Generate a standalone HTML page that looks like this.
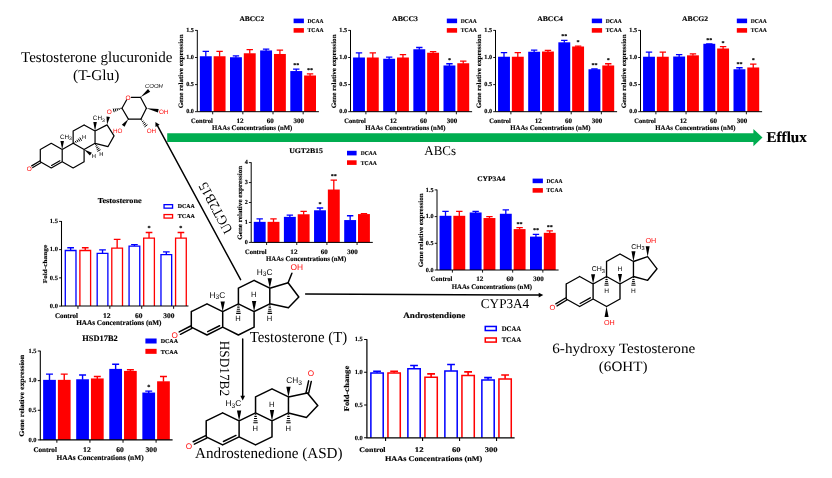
<!DOCTYPE html>
<html><head><meta charset="utf-8"><title>HAAs testosterone metabolism</title>
<style>
html,body{margin:0;padding:0;background:#fff;}
svg{display:block;will-change:transform;text-rendering:geometricPrecision;}
.b{font-family:"Liberation Serif",serif;font-weight:bold;stroke:#000;stroke-width:0.15px;}
.s{font-family:"Liberation Serif",serif;}
.a{font-family:"Liberation Sans",sans-serif;}
</style></head><body>
<svg width="832" height="478" viewBox="0 0 832 478">
<rect width="832" height="478" fill="#fff"/>
<path d="M167.2 133.2H753.4V129L762.5 137.6L753.4 146.2V141.9H167.2Z" fill="#00ad50"/>
<g>
<rect x="199.85" y="56.25" width="11.9" height="55.45" fill="#0000ff"/>
<path d="M205.8 56.75V51M202.6 51.3H209" stroke="#0000ff" stroke-width="1.3" fill="none"/>
<rect x="213.65" y="56.25" width="11.9" height="55.45" fill="#ff0000"/>
<path d="M219.6 56.75V51M216.4 51.3H222.8" stroke="#ff0000" stroke-width="1.3" fill="none"/>
<rect x="230" y="57.23" width="11.9" height="54.47" fill="#0000ff"/>
<path d="M235.95 57.73V55.49M232.75 55.79H239.15" stroke="#0000ff" stroke-width="1.3" fill="none"/>
<rect x="243.8" y="53.27" width="11.9" height="58.43" fill="#ff0000"/>
<path d="M249.75 53.77V49.37M246.55 49.67H252.95" stroke="#ff0000" stroke-width="1.3" fill="none"/>
<rect x="260.15" y="50.45" width="11.9" height="61.25" fill="#0000ff"/>
<path d="M266.1 50.95V48.83M262.9 49.13H269.3" stroke="#0000ff" stroke-width="1.3" fill="none"/>
<rect x="273.95" y="53.98" width="11.9" height="57.72" fill="#ff0000"/>
<path d="M279.9 54.48V49.75M276.7 50.05H283.1" stroke="#ff0000" stroke-width="1.3" fill="none"/>
<rect x="290.3" y="71.05" width="11.9" height="40.65" fill="#0000ff"/>
<path d="M296.25 71.55V68.88M293.05 69.18H299.45" stroke="#0000ff" stroke-width="1.3" fill="none"/>
<text class="b" x="296.25" y="67.18" font-size="6" text-anchor="middle">**</text>
<rect x="304.1" y="75.49" width="11.9" height="36.21" fill="#ff0000"/>
<path d="M310.05 75.99V73.49M306.85 73.79H313.25" stroke="#ff0000" stroke-width="1.3" fill="none"/>
<text class="b" x="310.05" y="71.79" font-size="6" text-anchor="middle">**</text>
<path d="M197.3 30.1V111.7H318.9" stroke="#000" stroke-width="1" fill="none"/>
<path d="M195 111.7H197.3M195 84.6H197.3M195 57.5H197.3M195 30.4H197.3M212.7 111.7V114.3M242.85 111.7V114.3M273 111.7V114.3M303.15 111.7V114.3" stroke="#000" stroke-width="0.9" fill="none"/>
<text class="b" x="193.9" y="113.4" font-size="6.2" text-anchor="end">0.0</text>
<text class="b" x="193.9" y="86.3" font-size="6.2" text-anchor="end">0.5</text>
<text class="b" x="193.9" y="59.2" font-size="6.2" text-anchor="end">1.0</text>
<text class="b" x="193.9" y="32.1" font-size="6.2" text-anchor="end">1.5</text>
<text class="b" transform="translate(212.7 123) scale(0.9582 1)" font-size="6.8" text-anchor="end">Control</text>
<text class="b" transform="translate(243.65 123) scale(1.0588 1)" font-size="6.8" text-anchor="end">12</text>
<text class="b" transform="translate(273.8 123) scale(1.0294 1)" font-size="6.8" text-anchor="end">60</text>
<text class="b" transform="translate(303.95 123) scale(1.0294 1)" font-size="6.8" text-anchor="end">300</text>
<text class="b" transform="translate(252.2 130.2) scale(0.9695 1)" font-size="7" text-anchor="middle">HAAs Concentrations (nM)</text>
<text class="b" font-size="6.6" text-anchor="middle" transform="translate(183 71.35) rotate(-90) translate(0 0) scale(1.0775 1)">Gene relative expression</text>
<text class="b" transform="translate(251.8 21.3) scale(1.0333 1)" font-size="7.2" text-anchor="middle">ABCC2</text>
<rect x="293.6" y="18.6" width="10.3" height="4.6" fill="#0000ff"/>
<text class="b" transform="translate(307.6 22.9) scale(0.9550 1)" font-size="5.8">DCAA</text>
<rect x="293.6" y="28.1" width="10.3" height="4.6" fill="#ff0000"/>
<text class="b" transform="translate(307.6 32.4) scale(0.9736 1)" font-size="5.8">TCAA</text>
</g>
<g>
<rect x="353.05" y="57.5" width="11.9" height="54.2" fill="#0000ff"/>
<path d="M359 58V52.62M355.8 52.92H362.2" stroke="#0000ff" stroke-width="1.3" fill="none"/>
<rect x="366.85" y="57.5" width="11.9" height="54.2" fill="#ff0000"/>
<path d="M372.8 58V52.62M369.6 52.92H376" stroke="#ff0000" stroke-width="1.3" fill="none"/>
<rect x="383.2" y="58.75" width="11.9" height="52.95" fill="#0000ff"/>
<path d="M389.15 59.25V56.74M385.95 57.04H392.35" stroke="#0000ff" stroke-width="1.3" fill="none"/>
<rect x="397" y="57.5" width="11.9" height="54.2" fill="#ff0000"/>
<path d="M402.95 58V54.25M399.75 54.55H406.15" stroke="#ff0000" stroke-width="1.3" fill="none"/>
<rect x="413.35" y="49.26" width="11.9" height="62.44" fill="#0000ff"/>
<path d="M419.3 49.76V47.2M416.1 47.5H422.5" stroke="#0000ff" stroke-width="1.3" fill="none"/>
<rect x="427.15" y="52.73" width="11.9" height="58.97" fill="#ff0000"/>
<path d="M433.1 53.23V51.27M429.9 51.57H436.3" stroke="#ff0000" stroke-width="1.3" fill="none"/>
<rect x="443.5" y="65.47" width="11.9" height="46.23" fill="#0000ff"/>
<path d="M449.45 65.97V63.46M446.25 63.76H452.65" stroke="#0000ff" stroke-width="1.3" fill="none"/>
<text class="b" x="449.45" y="61.76" font-size="6" text-anchor="middle">*</text>
<rect x="457.3" y="63.25" width="11.9" height="48.45" fill="#ff0000"/>
<path d="M463.25 63.75V60.75M460.05 61.05H466.45" stroke="#ff0000" stroke-width="1.3" fill="none"/>
<path d="M350.5 30.1V111.7H472.1" stroke="#000" stroke-width="1" fill="none"/>
<path d="M348.2 111.7H350.5M348.2 84.6H350.5M348.2 57.5H350.5M348.2 30.4H350.5M365.9 111.7V114.3M396.05 111.7V114.3M426.2 111.7V114.3M456.35 111.7V114.3" stroke="#000" stroke-width="0.9" fill="none"/>
<text class="b" x="347.1" y="113.4" font-size="6.2" text-anchor="end">0.0</text>
<text class="b" x="347.1" y="86.3" font-size="6.2" text-anchor="end">0.5</text>
<text class="b" x="347.1" y="59.2" font-size="6.2" text-anchor="end">1.0</text>
<text class="b" x="347.1" y="32.1" font-size="6.2" text-anchor="end">1.5</text>
<text class="b" transform="translate(365.9 123) scale(0.9582 1)" font-size="6.8" text-anchor="end">Control</text>
<text class="b" transform="translate(396.85 123) scale(1.0588 1)" font-size="6.8" text-anchor="end">12</text>
<text class="b" transform="translate(427 123) scale(1.0294 1)" font-size="6.8" text-anchor="end">60</text>
<text class="b" transform="translate(457.15 123) scale(1.0294 1)" font-size="6.8" text-anchor="end">300</text>
<text class="b" transform="translate(405.4 130.2) scale(0.9695 1)" font-size="7" text-anchor="middle">HAAs Concentrations (nM)</text>
<text class="b" font-size="6.6" text-anchor="middle" transform="translate(336.2 71.35) rotate(-90) translate(0 0) scale(1.0775 1)">Gene relative expression</text>
<text class="b" transform="translate(405 21.3) scale(1.0833 1)" font-size="7.2" text-anchor="middle">ABCC3</text>
<rect x="446.8" y="18.6" width="10.3" height="4.6" fill="#0000ff"/>
<text class="b" transform="translate(460.8 22.9) scale(0.9550 1)" font-size="5.8">DCAA</text>
<rect x="446.8" y="28.1" width="10.3" height="4.6" fill="#ff0000"/>
<text class="b" transform="translate(460.8 32.4) scale(0.9736 1)" font-size="5.8">TCAA</text>
</g>
<g>
<rect x="498.05" y="56.74" width="11.9" height="54.96" fill="#0000ff"/>
<path d="M504 57.24V52.24M500.8 52.54H507.2" stroke="#0000ff" stroke-width="1.3" fill="none"/>
<rect x="511.85" y="56.74" width="11.9" height="54.96" fill="#ff0000"/>
<path d="M517.8 57.24V52.24M514.6 52.54H521" stroke="#ff0000" stroke-width="1.3" fill="none"/>
<rect x="528.2" y="51.75" width="11.9" height="59.95" fill="#0000ff"/>
<path d="M534.15 52.25V49.75M530.95 50.05H537.35" stroke="#0000ff" stroke-width="1.3" fill="none"/>
<rect x="542" y="51.54" width="11.9" height="60.16" fill="#ff0000"/>
<path d="M547.95 52.04V50.02M544.75 50.32H551.15" stroke="#ff0000" stroke-width="1.3" fill="none"/>
<rect x="558.35" y="42.32" width="11.9" height="69.38" fill="#0000ff"/>
<path d="M564.3 42.82V40.16M561.1 40.46H567.5" stroke="#0000ff" stroke-width="1.3" fill="none"/>
<text class="b" x="564.3" y="38.46" font-size="6" text-anchor="middle">**</text>
<rect x="572.15" y="46.5" width="11.9" height="65.2" fill="#ff0000"/>
<path d="M578.1 47V45.74M574.9 46.04H581.3" stroke="#ff0000" stroke-width="1.3" fill="none"/>
<text class="b" x="578.1" y="44.04" font-size="6" text-anchor="middle">*</text>
<rect x="588.5" y="69.26" width="11.9" height="42.44" fill="#0000ff"/>
<path d="M594.45 69.76V68.72M591.25 69.02H597.65" stroke="#0000ff" stroke-width="1.3" fill="none"/>
<text class="b" x="594.45" y="67.02" font-size="6" text-anchor="middle">**</text>
<rect x="602.3" y="65.47" width="11.9" height="46.23" fill="#ff0000"/>
<path d="M608.25 65.97V63.46M605.05 63.76H611.45" stroke="#ff0000" stroke-width="1.3" fill="none"/>
<text class="b" x="608.25" y="61.76" font-size="6" text-anchor="middle">*</text>
<path d="M495.5 30.1V111.7H617.1" stroke="#000" stroke-width="1" fill="none"/>
<path d="M493.2 111.7H495.5M493.2 84.6H495.5M493.2 57.5H495.5M493.2 30.4H495.5M510.9 111.7V114.3M541.05 111.7V114.3M571.2 111.7V114.3M601.35 111.7V114.3" stroke="#000" stroke-width="0.9" fill="none"/>
<text class="b" x="492.1" y="113.4" font-size="6.2" text-anchor="end">0.0</text>
<text class="b" x="492.1" y="86.3" font-size="6.2" text-anchor="end">0.5</text>
<text class="b" x="492.1" y="59.2" font-size="6.2" text-anchor="end">1.0</text>
<text class="b" x="492.1" y="32.1" font-size="6.2" text-anchor="end">1.5</text>
<text class="b" transform="translate(510.9 123) scale(0.9582 1)" font-size="6.8" text-anchor="end">Control</text>
<text class="b" transform="translate(541.85 123) scale(1.0588 1)" font-size="6.8" text-anchor="end">12</text>
<text class="b" transform="translate(572 123) scale(1.0294 1)" font-size="6.8" text-anchor="end">60</text>
<text class="b" transform="translate(602.15 123) scale(1.0294 1)" font-size="6.8" text-anchor="end">300</text>
<text class="b" transform="translate(550.4 130.2) scale(0.9695 1)" font-size="7" text-anchor="middle">HAAs Concentrations (nM)</text>
<text class="b" font-size="6.6" text-anchor="middle" transform="translate(481.2 71.35) rotate(-90) translate(0 0) scale(1.0775 1)">Gene relative expression</text>
<text class="b" transform="translate(550 21.3) scale(1.0666 1)" font-size="7.2" text-anchor="middle">ABCC4</text>
<rect x="591.8" y="18.6" width="10.3" height="4.6" fill="#0000ff"/>
<text class="b" transform="translate(605.8 22.9) scale(0.9550 1)" font-size="5.8">DCAA</text>
<rect x="591.8" y="28.1" width="10.3" height="4.6" fill="#ff0000"/>
<text class="b" transform="translate(605.8 32.4) scale(0.9736 1)" font-size="5.8">TCAA</text>
</g>
<g>
<rect x="643.05" y="56.74" width="11.9" height="54.96" fill="#0000ff"/>
<path d="M649 57.24V51.75M645.8 52.05H652.2" stroke="#0000ff" stroke-width="1.3" fill="none"/>
<rect x="656.85" y="56.74" width="11.9" height="54.96" fill="#ff0000"/>
<path d="M662.8 57.24V51.75M659.6 52.05H666" stroke="#ff0000" stroke-width="1.3" fill="none"/>
<rect x="673.2" y="56.52" width="11.9" height="55.18" fill="#0000ff"/>
<path d="M679.15 57.02V54.25M675.95 54.55H682.35" stroke="#0000ff" stroke-width="1.3" fill="none"/>
<rect x="687" y="55.33" width="11.9" height="56.37" fill="#ff0000"/>
<path d="M692.95 55.83V53.49M689.75 53.79H696.15" stroke="#ff0000" stroke-width="1.3" fill="none"/>
<rect x="703.35" y="43.79" width="11.9" height="67.91" fill="#0000ff"/>
<path d="M709.3 44.29V43.52M706.1 43.82H712.5" stroke="#0000ff" stroke-width="1.3" fill="none"/>
<text class="b" x="709.3" y="41.82" font-size="6" text-anchor="middle">**</text>
<rect x="717.15" y="48.5" width="11.9" height="63.2" fill="#ff0000"/>
<path d="M723.1 49V46.28M719.9 46.58H726.3" stroke="#ff0000" stroke-width="1.3" fill="none"/>
<text class="b" x="723.1" y="44.58" font-size="6" text-anchor="middle">*</text>
<rect x="733.5" y="69.26" width="11.9" height="42.44" fill="#0000ff"/>
<path d="M739.45 69.76V67.47M736.25 67.77H742.65" stroke="#0000ff" stroke-width="1.3" fill="none"/>
<text class="b" x="739.45" y="65.77" font-size="6" text-anchor="middle">**</text>
<rect x="747.3" y="67.47" width="11.9" height="44.23" fill="#ff0000"/>
<path d="M753.25 67.97V63.73M750.05 64.03H756.45" stroke="#ff0000" stroke-width="1.3" fill="none"/>
<text class="b" x="753.25" y="62.03" font-size="6" text-anchor="middle">*</text>
<path d="M640.5 30.1V111.7H762.1" stroke="#000" stroke-width="1" fill="none"/>
<path d="M638.2 111.7H640.5M638.2 84.6H640.5M638.2 57.5H640.5M638.2 30.4H640.5M655.9 111.7V114.3M686.05 111.7V114.3M716.2 111.7V114.3M746.35 111.7V114.3" stroke="#000" stroke-width="0.9" fill="none"/>
<text class="b" x="637.1" y="113.4" font-size="6.2" text-anchor="end">0.0</text>
<text class="b" x="637.1" y="86.3" font-size="6.2" text-anchor="end">0.5</text>
<text class="b" x="637.1" y="59.2" font-size="6.2" text-anchor="end">1.0</text>
<text class="b" x="637.1" y="32.1" font-size="6.2" text-anchor="end">1.5</text>
<text class="b" transform="translate(655.9 123) scale(0.9582 1)" font-size="6.8" text-anchor="end">Control</text>
<text class="b" transform="translate(686.85 123) scale(1.0588 1)" font-size="6.8" text-anchor="end">12</text>
<text class="b" transform="translate(717 123) scale(1.0294 1)" font-size="6.8" text-anchor="end">60</text>
<text class="b" transform="translate(747.15 123) scale(1.0294 1)" font-size="6.8" text-anchor="end">300</text>
<text class="b" transform="translate(695.4 130.2) scale(0.9695 1)" font-size="7" text-anchor="middle">HAAs Concentrations (nM)</text>
<text class="b" font-size="6.6" text-anchor="middle" transform="translate(626.2 71.35) rotate(-90) translate(0 0) scale(1.0775 1)">Gene relative expression</text>
<text class="b" transform="translate(695 21.3) scale(1.0655 1)" font-size="7.2" text-anchor="middle">ABCG2</text>
<rect x="736.8" y="18.6" width="10.3" height="4.6" fill="#0000ff"/>
<text class="b" transform="translate(750.8 22.9) scale(0.9550 1)" font-size="5.8">DCAA</text>
<rect x="736.8" y="28.1" width="10.3" height="4.6" fill="#ff0000"/>
<text class="b" transform="translate(750.8 32.4) scale(0.9736 1)" font-size="5.8">TCAA</text>
</g>
<g>
<rect x="253.75" y="221.85" width="11.9" height="20.55" fill="#0000ff"/>
<path d="M259.7 222.35V218.66M256.5 218.96H262.9" stroke="#0000ff" stroke-width="1.3" fill="none"/>
<rect x="267.55" y="221.85" width="11.9" height="20.55" fill="#ff0000"/>
<path d="M273.5 222.35V218.66M270.3 218.96H276.7" stroke="#ff0000" stroke-width="1.3" fill="none"/>
<rect x="283.9" y="216.86" width="11.9" height="25.54" fill="#0000ff"/>
<path d="M289.85 217.36V214.87M286.65 215.17H293.05" stroke="#0000ff" stroke-width="1.3" fill="none"/>
<rect x="297.7" y="214.27" width="11.9" height="28.13" fill="#ff0000"/>
<path d="M303.65 214.77V211.08M300.45 211.38H306.85" stroke="#ff0000" stroke-width="1.3" fill="none"/>
<rect x="314.05" y="210.28" width="11.9" height="32.12" fill="#0000ff"/>
<path d="M320 210.78V207.69M316.8 207.99H323.2" stroke="#0000ff" stroke-width="1.3" fill="none"/>
<text class="b" x="320" y="205.99" font-size="6" text-anchor="middle">*</text>
<rect x="327.85" y="189.53" width="11.9" height="52.87" fill="#ff0000"/>
<path d="M333.8 190.03V179.76M330.6 180.06H337" stroke="#ff0000" stroke-width="1.3" fill="none"/>
<text class="b" x="333.8" y="178.06" font-size="6" text-anchor="middle">**</text>
<rect x="344.2" y="220.06" width="11.9" height="22.34" fill="#0000ff"/>
<path d="M350.15 220.56V215.47M346.95 215.77H353.35" stroke="#0000ff" stroke-width="1.3" fill="none"/>
<rect x="358" y="214.07" width="11.9" height="28.33" fill="#ff0000"/>
<path d="M363.95 214.57V213.27M360.75 213.57H367.15" stroke="#ff0000" stroke-width="1.3" fill="none"/>
<path d="M251.2 162.3V242.4H372.8" stroke="#000" stroke-width="1" fill="none"/>
<path d="M248.9 242.4H251.2M248.9 222.45H251.2M248.9 202.5H251.2M248.9 182.55H251.2M248.9 162.6H251.2M266.6 242.4V245M296.75 242.4V245M326.9 242.4V245M357.05 242.4V245" stroke="#000" stroke-width="0.9" fill="none"/>
<text class="b" x="247.8" y="244.1" font-size="6.2" text-anchor="end">0</text>
<text class="b" x="247.8" y="224.15" font-size="6.2" text-anchor="end">1</text>
<text class="b" x="247.8" y="204.2" font-size="6.2" text-anchor="end">2</text>
<text class="b" x="247.8" y="184.25" font-size="6.2" text-anchor="end">3</text>
<text class="b" x="247.8" y="164.3" font-size="6.2" text-anchor="end">4</text>
<text class="b" transform="translate(266.6 253.7) scale(0.9582 1)" font-size="6.8" text-anchor="end">Control</text>
<text class="b" transform="translate(297.55 253.7) scale(1.0588 1)" font-size="6.8" text-anchor="end">12</text>
<text class="b" transform="translate(327.7 253.7) scale(1.0294 1)" font-size="6.8" text-anchor="end">60</text>
<text class="b" transform="translate(357.85 253.7) scale(1.0294 1)" font-size="6.8" text-anchor="end">300</text>
<text class="b" transform="translate(306.1 260.9) scale(0.9695 1)" font-size="7" text-anchor="middle">HAAs Concentrations (nM)</text>
<text class="b" font-size="6.6" text-anchor="middle" transform="translate(241.5 202.8) rotate(-90) translate(0 0) scale(1.0775 1)">Gene relative expression</text>
<text class="b" transform="translate(306 153) scale(1.0832 1)" font-size="7.2" text-anchor="middle">UGT2B15</text>
<rect x="347" y="150.8" width="9.6" height="4.6" fill="#0000ff"/>
<text class="b" transform="translate(360.8 155.1) scale(0.9550 1)" font-size="5.8">DCAA</text>
<rect x="347" y="160.3" width="9.6" height="4.6" fill="#ff0000"/>
<text class="b" transform="translate(360.8 164.6) scale(0.9736 1)" font-size="5.8">TCAA</text>
</g>
<g>
<rect x="439.55" y="215.8" width="11.9" height="54.2" fill="#0000ff"/>
<path d="M445.5 216.3V210.99M442.3 211.29H448.7" stroke="#0000ff" stroke-width="1.3" fill="none"/>
<rect x="453.35" y="215.8" width="11.9" height="54.2" fill="#ff0000"/>
<path d="M459.3 216.3V210.99M456.1 211.29H462.5" stroke="#ff0000" stroke-width="1.3" fill="none"/>
<rect x="469.7" y="212.49" width="11.9" height="57.51" fill="#0000ff"/>
<path d="M475.65 212.99V210.99M472.45 211.29H478.85" stroke="#0000ff" stroke-width="1.3" fill="none"/>
<rect x="483.5" y="218.04" width="11.9" height="51.96" fill="#ff0000"/>
<path d="M489.45 218.54V216.28M486.25 216.58H492.65" stroke="#ff0000" stroke-width="1.3" fill="none"/>
<rect x="499.85" y="213.77" width="11.9" height="56.23" fill="#0000ff"/>
<path d="M505.8 214.27V209.5M502.6 209.8H509" stroke="#0000ff" stroke-width="1.3" fill="none"/>
<rect x="513.65" y="229.1" width="11.9" height="40.9" fill="#ff0000"/>
<path d="M519.6 229.6V227.28M516.4 227.58H522.8" stroke="#ff0000" stroke-width="1.3" fill="none"/>
<text class="b" x="519.6" y="225.58" font-size="6" text-anchor="middle">**</text>
<rect x="530" y="236.62" width="11.9" height="33.38" fill="#0000ff"/>
<path d="M535.95 237.12V234.12M532.75 234.42H539.15" stroke="#0000ff" stroke-width="1.3" fill="none"/>
<text class="b" x="535.95" y="232.42" font-size="6" text-anchor="middle">**</text>
<rect x="543.8" y="232.83" width="11.9" height="37.17" fill="#ff0000"/>
<path d="M549.75 233.33V230.59M546.55 230.89H552.95" stroke="#ff0000" stroke-width="1.3" fill="none"/>
<text class="b" x="549.75" y="228.89" font-size="6" text-anchor="middle">**</text>
<path d="M437 189.6V270H558.6" stroke="#000" stroke-width="1" fill="none"/>
<path d="M434.7 270H437M434.7 243.3H437M434.7 216.6H437M434.7 189.9H437M452.4 270V272.6M482.55 270V272.6M512.7 270V272.6M542.85 270V272.6" stroke="#000" stroke-width="0.9" fill="none"/>
<text class="b" x="433.6" y="271.7" font-size="6.2" text-anchor="end">0.0</text>
<text class="b" x="433.6" y="245" font-size="6.2" text-anchor="end">0.5</text>
<text class="b" x="433.6" y="218.3" font-size="6.2" text-anchor="end">1.0</text>
<text class="b" x="433.6" y="191.6" font-size="6.2" text-anchor="end">1.5</text>
<text class="b" transform="translate(452.4 281.3) scale(0.9582 1)" font-size="6.8" text-anchor="end">Control</text>
<text class="b" transform="translate(483.35 281.3) scale(1.0588 1)" font-size="6.8" text-anchor="end">12</text>
<text class="b" transform="translate(513.5 281.3) scale(1.0294 1)" font-size="6.8" text-anchor="end">60</text>
<text class="b" transform="translate(543.65 281.3) scale(1.0294 1)" font-size="6.8" text-anchor="end">300</text>
<text class="b" transform="translate(491.9 288.5) scale(0.9695 1)" font-size="7" text-anchor="middle">HAAs Concentrations (nM)</text>
<text class="b" font-size="6.6" text-anchor="middle" transform="translate(422.7 230.25) rotate(-90) translate(0 0) scale(1.0775 1)">Gene relative expression</text>
<text class="b" transform="translate(491.2 180.6) scale(1.0332 1)" font-size="7.2" text-anchor="middle">CYP3A4</text>
<rect x="532.6" y="178.6" width="10.3" height="4.6" fill="#0000ff"/>
<text class="b" transform="translate(546.6 182.9) scale(0.9550 1)" font-size="5.8">DCAA</text>
<rect x="532.6" y="188.1" width="10.3" height="4.6" fill="#ff0000"/>
<text class="b" transform="translate(546.6 192.4) scale(0.9736 1)" font-size="5.8">TCAA</text>
</g>
<g>
<path d="M65.28 306.1V250.51H75.99V306.1" fill="#fff" stroke="#0000ff" stroke-width="1.31"/>
<path d="M70.64 250.36V247.49M67.29 247.79H73.98" stroke="#0000ff" stroke-width="1.36" fill="none"/>
<path d="M79.9 306.1V250.51H90.6V306.1" fill="#fff" stroke="#ff0000" stroke-width="1.31"/>
<path d="M85.25 250.36V247.49M81.91 247.79H88.59" stroke="#ff0000" stroke-width="1.36" fill="none"/>
<path d="M97.18 306.1V253.45H107.88V306.1" fill="#fff" stroke="#0000ff" stroke-width="1.31"/>
<path d="M102.53 253.3V249.63M99.19 249.93H105.87" stroke="#0000ff" stroke-width="1.36" fill="none"/>
<path d="M111.79 306.1V248.14H122.5V306.1" fill="#fff" stroke="#ff0000" stroke-width="1.31"/>
<path d="M117.15 247.99V239.02M113.8 239.32H120.49" stroke="#ff0000" stroke-width="1.36" fill="none"/>
<path d="M129.07 306.1V246.11H139.77V306.1" fill="#fff" stroke="#0000ff" stroke-width="1.31"/>
<path d="M134.42 245.95V244.27M131.08 244.57H137.76" stroke="#0000ff" stroke-width="1.36" fill="none"/>
<path d="M143.69 306.1V238.2H154.39V306.1" fill="#fff" stroke="#ff0000" stroke-width="1.31"/>
<path d="M149.04 238.05V232.24M145.7 232.54H152.38" stroke="#ff0000" stroke-width="1.36" fill="none"/>
<text class="b" x="149.04" y="230.47" font-size="6.26" text-anchor="middle">*</text>
<path d="M160.97 306.1V254.58H171.67V306.1" fill="#fff" stroke="#0000ff" stroke-width="1.31"/>
<path d="M166.32 254.42V251.61M162.98 251.91H169.66" stroke="#0000ff" stroke-width="1.36" fill="none"/>
<path d="M175.58 306.1V238.2H186.28V306.1" fill="#fff" stroke="#ff0000" stroke-width="1.31"/>
<path d="M180.93 238.05V232.24M177.59 232.54H184.27" stroke="#ff0000" stroke-width="1.36" fill="none"/>
<text class="b" x="180.93" y="230.47" font-size="6.26" text-anchor="middle">*</text>
<path d="M61.5 221.1V306.1H188.45" stroke="#000" stroke-width="1.04" fill="none"/>
<path d="M59.1 306.1H61.5M59.1 277.87H61.5M59.1 249.63H61.5M59.1 221.4H61.5M77.94 306.1V308.81M109.84 306.1V308.81M141.73 306.1V308.81M173.63 306.1V308.81" stroke="#000" stroke-width="0.94" fill="none"/>
<text class="b" x="57.95" y="307.87" font-size="6.47" text-anchor="end">0.0</text>
<text class="b" x="57.95" y="279.64" font-size="6.47" text-anchor="end">0.5</text>
<text class="b" x="57.95" y="251.41" font-size="6.47" text-anchor="end">1.0</text>
<text class="b" x="57.95" y="223.17" font-size="6.47" text-anchor="end">1.5</text>
<text class="b" transform="translate(77.94 317.9) scale(0.9774 1)" font-size="7.1" text-anchor="end">Control</text>
<text class="b" transform="translate(110.67 317.9) scale(1.0800 1)" font-size="7.1" text-anchor="end">12</text>
<text class="b" transform="translate(142.57 317.9) scale(1.0500 1)" font-size="7.1" text-anchor="end">60</text>
<text class="b" transform="translate(174.46 317.9) scale(1.0500 1)" font-size="7.1" text-anchor="end">300</text>
<text class="b" transform="translate(118.82 325.41) scale(0.9888 1)" font-size="7.31" text-anchor="middle">HAAs Concentrations (nM)</text>
<text class="b" font-size="5.95" text-anchor="middle" transform="translate(46.78 264.05) rotate(-90) translate(0 0) scale(1.2226 1)">Fold-change</text>
<text class="b" transform="translate(119.7 203) scale(1.0976 1)" font-size="7.52" text-anchor="middle">Testosterone</text>
<rect x="164.05" y="204.65" width="8.51" height="3.5" fill="#fff" stroke="#0000ff" stroke-width="1.31"/>
<text class="b" transform="translate(177.81 208.49) scale(0.9741 1)" font-size="6.06">DCAA</text>
<rect x="164.05" y="214.57" width="8.51" height="3.5" fill="#fff" stroke="#ff0000" stroke-width="1.31"/>
<text class="b" transform="translate(177.81 218.41) scale(0.9930 1)" font-size="6.06">TCAA</text>
</g>
<g>
<rect x="43.13" y="379.86" width="12.73" height="60.04" fill="#0000ff"/>
<path d="M49.49 380.36V373.82M46.01 374.12H52.98" stroke="#0000ff" stroke-width="1.41" fill="none"/>
<rect x="57.87" y="379.86" width="12.73" height="60.04" fill="#ff0000"/>
<path d="M64.24 380.36V373.82M60.75 374.12H67.72" stroke="#ff0000" stroke-width="1.41" fill="none"/>
<rect x="76.2" y="379.27" width="12.73" height="60.63" fill="#0000ff"/>
<path d="M82.57 379.77V374.71M79.09 375.01H86.05" stroke="#0000ff" stroke-width="1.41" fill="none"/>
<rect x="90.95" y="378.44" width="12.73" height="61.46" fill="#ff0000"/>
<path d="M97.31 378.94V376.13M93.83 376.43H100.79" stroke="#ff0000" stroke-width="1.41" fill="none"/>
<rect x="109.28" y="368.9" width="12.73" height="71" fill="#0000ff"/>
<path d="M115.64 369.4V363.98M112.16 364.28H119.13" stroke="#0000ff" stroke-width="1.41" fill="none"/>
<rect x="124.02" y="370.91" width="12.73" height="68.99" fill="#ff0000"/>
<path d="M130.39 371.41V369.49M126.9 369.79H133.87" stroke="#ff0000" stroke-width="1.41" fill="none"/>
<rect x="142.35" y="392.55" width="12.73" height="47.35" fill="#0000ff"/>
<path d="M148.72 393.05V390.83M145.24 391.13H152.2" stroke="#0000ff" stroke-width="1.41" fill="none"/>
<text class="b" x="148.72" y="388.98" font-size="6.27" text-anchor="middle">*</text>
<rect x="157.1" y="381.29" width="12.73" height="58.61" fill="#ff0000"/>
<path d="M163.46 381.79V376.13M159.98 376.43H166.94" stroke="#ff0000" stroke-width="1.41" fill="none"/>
<path d="M40.3 350.7V439.9H172.6" stroke="#000" stroke-width="1.09" fill="none"/>
<path d="M37.8 439.9H40.3M37.8 410.27H40.3M37.8 380.63H40.3M37.8 351H40.3M56.86 439.9V442.73M89.94 439.9V442.73M123.02 439.9V442.73M156.09 439.9V442.73" stroke="#000" stroke-width="0.98" fill="none"/>
<text class="b" x="36.6" y="441.68" font-size="6.48" text-anchor="end">0.0</text>
<text class="b" x="36.6" y="412.04" font-size="6.48" text-anchor="end">0.5</text>
<text class="b" x="36.6" y="382.41" font-size="6.48" text-anchor="end">1.0</text>
<text class="b" x="36.6" y="352.78" font-size="6.48" text-anchor="end">1.5</text>
<text class="b" transform="translate(56.86 452.19) scale(0.9981 1)" font-size="7.1" text-anchor="end">Control</text>
<text class="b" transform="translate(90.81 452.19) scale(1.1029 1)" font-size="7.1" text-anchor="end">12</text>
<text class="b" transform="translate(123.89 452.19) scale(1.0723 1)" font-size="7.1" text-anchor="end">60</text>
<text class="b" transform="translate(156.96 452.19) scale(1.0723 1)" font-size="7.1" text-anchor="end">300</text>
<text class="b" transform="translate(100.03 460.03) scale(1.0099 1)" font-size="7.31" text-anchor="middle">HAAs Concentrations (nM)</text>
<text class="b" font-size="6.89" text-anchor="middle" transform="translate(24.09 395.75) rotate(-90) translate(0 0) scale(1.1431 1)">Gene relative expression</text>
<text class="b" transform="translate(100 341.2) scale(1.0130 1)" font-size="8.25" text-anchor="middle">HSD17B2</text>
<rect x="145.4" y="338.5" width="11.21" height="5" fill="#0000ff"/>
<text class="b" transform="translate(160.63 343.18) scale(0.9947 1)" font-size="6.06">DCAA</text>
<rect x="145.4" y="348.84" width="11.21" height="5" fill="#ff0000"/>
<text class="b" transform="translate(160.63 353.51) scale(1.0141 1)" font-size="6.06">TCAA</text>
</g>
<g>
<path d="M370.88 437.8V373.03H383.21V437.8" fill="#fff" stroke="#0000ff" stroke-width="1.52"/>
<path d="M377.05 372.77V370.96M373.16 371.26H380.93" stroke="#0000ff" stroke-width="1.58" fill="none"/>
<path d="M387.95 437.8V373.03H400.28V437.8" fill="#fff" stroke="#ff0000" stroke-width="1.52"/>
<path d="M394.12 372.77V370.96M390.23 371.26H398" stroke="#ff0000" stroke-width="1.58" fill="none"/>
<path d="M407.88 437.8V368.7H420.21V437.8" fill="#fff" stroke="#0000ff" stroke-width="1.52"/>
<path d="M414.04 368.44V365.25M410.15 365.55H417.93" stroke="#0000ff" stroke-width="1.58" fill="none"/>
<path d="M424.95 437.8V377.35H437.28V437.8" fill="#fff" stroke="#ff0000" stroke-width="1.52"/>
<path d="M431.11 377.09V373.58M427.22 373.88H435" stroke="#ff0000" stroke-width="1.58" fill="none"/>
<path d="M444.87 437.8V371.06H457.2V437.8" fill="#fff" stroke="#0000ff" stroke-width="1.52"/>
<path d="M451.04 370.8V364.27M447.15 364.57H454.93" stroke="#0000ff" stroke-width="1.58" fill="none"/>
<path d="M461.94 437.8V375.39H474.28V437.8" fill="#fff" stroke="#ff0000" stroke-width="1.52"/>
<path d="M468.11 375.13V371.61M464.22 371.91H472" stroke="#ff0000" stroke-width="1.58" fill="none"/>
<path d="M481.87 437.8V380.04H494.2V437.8" fill="#fff" stroke="#0000ff" stroke-width="1.52"/>
<path d="M488.04 379.78V377.31M484.15 377.61H491.92" stroke="#0000ff" stroke-width="1.58" fill="none"/>
<path d="M498.94 437.8V379.06H511.27V437.8" fill="#fff" stroke="#ff0000" stroke-width="1.52"/>
<path d="M505.11 378.8V374.63M501.22 374.93H508.99" stroke="#ff0000" stroke-width="1.58" fill="none"/>
<path d="M366.9 339.2V437.8H514.64" stroke="#000" stroke-width="1.22" fill="none"/>
<path d="M364.11 437.8H366.9M364.11 405.03H366.9M364.11 372.27H366.9M364.11 339.5H366.9M385.58 437.8V440.96M422.58 437.8V440.96M459.57 437.8V440.96M496.57 437.8V440.96" stroke="#000" stroke-width="1.09" fill="none"/>
<text class="b" x="362.77" y="439.58" font-size="6.48" text-anchor="end">0.0</text>
<text class="b" x="362.77" y="406.81" font-size="6.48" text-anchor="end">0.5</text>
<text class="b" x="362.77" y="374.04" font-size="6.48" text-anchor="end">1.0</text>
<text class="b" x="362.77" y="341.28" font-size="6.48" text-anchor="end">1.5</text>
<text class="b" transform="translate(385.58 452.23) scale(1.1142 1)" font-size="7.11" text-anchor="end">Control</text>
<text class="b" transform="translate(423.55 452.23) scale(1.2312 1)" font-size="7.11" text-anchor="end">12</text>
<text class="b" transform="translate(460.55 452.23) scale(1.1970 1)" font-size="7.11" text-anchor="end">60</text>
<text class="b" transform="translate(497.54 452.23) scale(1.1970 1)" font-size="7.11" text-anchor="end">300</text>
<text class="b" transform="translate(433.6 460.98) scale(1.1273 1)" font-size="7.31" text-anchor="middle">HAAs Concentrations (nM)</text>
<text class="b" font-size="7.31" text-anchor="middle" transform="translate(349.16 388.55) rotate(-90) translate(0 0) scale(1.1838 1)">Fold-change</text>
<text class="b" transform="translate(434.3 317.6) scale(1.1124 1)" font-size="8.2" text-anchor="middle">Androstendione</text>
<rect x="485.26" y="326.46" width="11" height="4.07" fill="#fff" stroke="#0000ff" stroke-width="1.52"/>
<text class="b" transform="translate(501.75 330.92) scale(0.9613 1)" font-size="7">DCAA</text>
<rect x="485.26" y="338" width="11" height="4.07" fill="#fff" stroke="#ff0000" stroke-width="1.52"/>
<text class="b" transform="translate(501.75 342.47) scale(0.9800 1)" font-size="7">TCAA</text>
</g>
<text class="s" transform="translate(96.7 61.5) scale(1.0027 1)" font-size="15" text-anchor="middle">Testosterone glucuronide</text>
<text class="s" transform="translate(96.2 79.9) scale(1.0227 1)" font-size="15" text-anchor="middle">(T-Glu)</text>
<text class="s" transform="translate(424.3 154.6) scale(0.9705 1)" font-size="13.4">ABCs</text>
<text class="b" transform="translate(766.5 142) scale(1.0074 1)" font-size="15">Efflux</text>
<text class="s" transform="translate(249.7 342.2) scale(0.9714 1)" font-size="15.3">Testosterone (T)</text>
<text class="s" transform="translate(195.1 458.3) scale(0.9889 1)" font-size="15.3">Androstenedione (ASD)</text>
<text class="s" transform="translate(552.3 353.4) scale(1.0670 1)" font-size="14.2">6-hydroxy Testosterone</text>
<text class="s" transform="translate(598.8 371.1) scale(1.0647 1)" font-size="14.2">(6OHT)</text>
<text class="s" transform="translate(480.8 307.6) scale(0.9775 1)" font-size="13.5">CYP3A4</text>
<path d="M240.6 279.7L157.15 125.14" stroke="#000" stroke-width="1.45" stroke-linecap="round" fill="none"/>
<path d="M155.4 121.9L159.65 124.83L155.52 127.06Z" fill="#000"/>
<path d="M242.7 338.9L242.7 396.72" stroke="#000" stroke-width="1.45" stroke-linecap="round" fill="none"/>
<path d="M242.7 400.4L240.35 395.8L245.05 395.8Z" fill="#000"/>
<path d="M305.6 294L539.62 295.08" stroke="#000" stroke-width="1.45" stroke-linecap="round" fill="none"/>
<path d="M543.3 295.1L538.69 297.43L538.71 292.73Z" fill="#000"/>
<text class="s" font-size="14" text-anchor="middle" transform="translate(215.5 208) rotate(-118.4) translate(0 4.6) scale(0.9508 1)">UGT2B15</text>
<text class="s" font-size="14" text-anchor="middle" transform="translate(224.6 368.4) rotate(90) translate(0 4.6) scale(0.9512 1)">HSD17B2</text>
<path d="M207 303.8L191.3 311.6M191.3 311.6L191.3 327.2M191.3 327.2L207 335M207 335L222.7 327.2M222.7 327.2L222.7 311.6M222.7 311.6L207 303.8M222.7 327.2L238.4 335M238.4 335L254.1 327.2M254.1 327.2L254.1 311.6M254.1 311.6L238.4 303.8M238.4 303.8L222.7 311.6M238.4 303.8L238.4 288.2M238.4 288.2L254.1 280.4M254.1 280.4L269.8 288.2M269.8 288.2L269.8 303.8M269.8 303.8L254.1 311.6M269.8 303.8L288.4 307.8M288.4 307.8L298.8 297M298.8 297L288.1 282.8M288.1 282.8L269.8 288.2" stroke="#000" stroke-width="1.5" stroke-linecap="round" stroke-linejoin="round" fill="none"/>
<path d="M207.68 331.65L219.61 325.72" stroke="#000" stroke-width="1.5" stroke-linecap="round" fill="none"/>
<path d="M191.92 328.4L180.42 334.34" stroke="#000" stroke-width="1.5" stroke-linecap="round" fill="none"/>
<path d="M190.68 326L179.18 331.94" stroke="#000" stroke-width="1.5" stroke-linecap="round" fill="none"/>
<text class="a" x="174.8" y="338.4" font-size="8.2" text-anchor="middle" fill="#ff0d0d">O</text>
<path d="M222.7 311.6L224.85 301.6L220.55 301.6Z" fill="#000"/>
<text class="a" x="225.3" y="297.6" font-size="8.3" text-anchor="end">H<tspan font-size="6.64" dy="1.83">3</tspan><tspan dy="-1.83">​</tspan>C</text>
<path d="M269.8 288.2L271.95 278.2L267.65 278.2Z" fill="#000"/>
<text class="a" x="272.4" y="274.5" font-size="8.3" text-anchor="end">H<tspan font-size="6.64" dy="1.83">3</tspan><tspan dy="-1.83">​</tspan>C</text>
<path d="M237.58 305.05L239.22 305.05M237.22 307.13L239.58 307.13M236.86 309.21L239.94 309.21M236.5 311.29L240.3 311.29M236.14 313.37L240.66 313.37" stroke="#000" stroke-width="1.05" fill="none"/>
<text class="a" x="238.1" y="321" font-size="7.6" text-anchor="middle">H</text>
<path d="M254.1 311.6L256.25 301.1L251.95 301.1Z" fill="#000"/>
<text class="a" x="253.8" y="297.2" font-size="7.6" text-anchor="middle">H</text>
<path d="M268.98 305.05L270.62 305.05M268.62 307.13L270.98 307.13M268.26 309.21L271.34 309.21M267.9 311.29L271.7 311.29M267.54 313.37L272.06 313.37" stroke="#000" stroke-width="1.05" fill="none"/>
<text class="a" x="269.5" y="321" font-size="7.6" text-anchor="middle">H</text>
<path d="M288.1 282.8L291.9 273.3" stroke="#000" stroke-width="1.5" stroke-linecap="round" fill="none"/>
<text class="a" x="296.9" y="269.8" font-size="8.4" text-anchor="middle" fill="#ff0d0d">OH</text>
<path d="M222.65 412.9L206.2 420.9M206.2 420.9L206.2 436.9M206.2 436.9L222.65 444.9M222.65 444.9L239.1 436.9M239.1 436.9L239.1 420.9M239.1 420.9L222.65 412.9M239.1 436.9L255.55 444.9M255.55 444.9L272 436.9M272 436.9L272 420.9M272 420.9L255.55 412.9M255.55 412.9L239.1 420.9M255.55 412.9L255.55 396.9M255.55 396.9L272 388.9M272 388.9L288.45 396.9M288.45 396.9L288.45 412.9M288.45 412.9L272 420.9M288.45 412.9L306.45 417.4M306.45 417.4L317.75 405.6M317.75 405.6L307.35 392.9M307.35 392.9L288.45 396.9" stroke="#000" stroke-width="1.5" stroke-linecap="round" stroke-linejoin="round" fill="none"/>
<path d="M223.44 441.51L235.95 435.43" stroke="#000" stroke-width="1.5" stroke-linecap="round" fill="none"/>
<path d="M206.79 438.11L194.34 444.15" stroke="#000" stroke-width="1.5" stroke-linecap="round" fill="none"/>
<path d="M205.61 435.69L193.16 441.72" stroke="#000" stroke-width="1.5" stroke-linecap="round" fill="none"/>
<text class="a" x="188.9" y="448.5" font-size="8.2" text-anchor="middle" fill="#ff0d0d">O</text>
<path d="M239.1 420.9L241.25 410.4L236.95 410.4Z" fill="#000"/>
<text class="a" x="241.3" y="406.4" font-size="8.3" text-anchor="end">H<tspan font-size="6.64" dy="1.83">3</tspan><tspan dy="-1.83">​</tspan>C</text>
<path d="M288.45 396.9L290.6 386.7L286.3 386.7Z" fill="#000"/>
<text class="a" x="286.25" y="383.1" font-size="8.3">CH<tspan font-size="6.64" dy="1.83">3</tspan><tspan dy="-1.83">​</tspan></text>
<path d="M254.73 414.2L256.37 414.2M254.37 416.36L256.73 416.36M254.01 418.52L257.09 418.52M253.65 420.68L257.45 420.68M253.29 422.84L257.81 422.84" stroke="#000" stroke-width="1.05" fill="none"/>
<text class="a" x="255.25" y="431.1" font-size="7.6" text-anchor="middle">H</text>
<path d="M272 420.9L274.15 410.1L269.85 410.1Z" fill="#000"/>
<text class="a" x="271.7" y="406.5" font-size="7.6" text-anchor="middle">H</text>
<path d="M287.63 414.2L289.27 414.2M287.27 416.36L289.63 416.36M286.91 418.52L289.99 418.52M286.55 420.68L290.35 420.68M286.19 422.84L290.71 422.84" stroke="#000" stroke-width="1.05" fill="none"/>
<text class="a" x="288.15" y="431.1" font-size="7.6" text-anchor="middle">H</text>
<path d="M306.03 392.61L308.64 380.86" stroke="#000" stroke-width="1.5" stroke-linecap="round" fill="none"/>
<path d="M308.67 393.19L311.28 381.45" stroke="#000" stroke-width="1.5" stroke-linecap="round" fill="none"/>
<text class="a" x="310.95" y="376.4" font-size="8.2" text-anchor="middle" fill="#ff0d0d">O</text>
<path d="M579.65 276.5L566.2 284M566.2 284L566.2 299M566.2 299L579.65 306.5M579.65 306.5L593.1 299M593.1 299L593.1 284M593.1 284L579.65 276.5M593.1 299L606.55 306.5M606.55 306.5L620 299M620 299L620 284M620 284L606.55 276.5M606.55 276.5L593.1 284M606.55 276.5L606.55 261.5M606.55 261.5L620 254M620 254L633.45 261.5M633.45 261.5L633.45 276.5M633.45 276.5L620 284M633.45 276.5L647.65 280.3M647.65 280.3L657.05 268.8M657.05 268.8L647.65 256.7M647.65 256.7L633.45 261.5" stroke="#000" stroke-width="1.35" stroke-linecap="round" stroke-linejoin="round" fill="none"/>
<path d="M580.1 303.5L590.32 297.8" stroke="#000" stroke-width="1.35" stroke-linecap="round" fill="none"/>
<path d="M566.82 300.03L557.04 305.95" stroke="#000" stroke-width="1.35" stroke-linecap="round" fill="none"/>
<path d="M565.58 297.97L555.8 303.9" stroke="#000" stroke-width="1.35" stroke-linecap="round" fill="none"/>
<text class="a" x="552.4" y="309.9" font-size="7.4" text-anchor="middle" fill="#ff0d0d">O</text>
<path d="M593.1 284L595.1 274.2L591.1 274.2Z" fill="#000"/>
<text class="a" x="591.7" y="271.4" font-size="7">CH<tspan font-size="5.6" dy="1.54">3</tspan><tspan dy="-1.54">​</tspan></text>
<path d="M633.45 261.5L635.45 251.3L631.45 251.3Z" fill="#000"/>
<text class="a" x="631.25" y="248.5" font-size="7">CH<tspan font-size="5.6" dy="1.54">3</tspan><tspan dy="-1.54">​</tspan></text>
<path d="M605.79 277.63L607.32 277.63M605.45 279.51L607.65 279.51M605.11 281.39L607.99 281.39M604.77 283.27L608.33 283.27M604.44 285.15L608.67 285.15" stroke="#000" stroke-width="1" fill="none"/>
<text class="a" x="606.55" y="293.3" font-size="6.6" text-anchor="middle">H</text>
<path d="M620 284L622 274L618 274Z" fill="#000"/>
<text class="a" x="620" y="270.8" font-size="6.6" text-anchor="middle">H</text>
<path d="M632.69 277.63L634.22 277.63M632.35 279.51L634.55 279.51M632.01 281.39L634.89 281.39M631.67 283.27L635.23 283.27M631.34 285.15L635.57 285.15" stroke="#000" stroke-width="1" fill="none"/>
<text class="a" x="633.45" y="293.3" font-size="6.6" text-anchor="middle">H</text>
<path d="M647.65 256.7L649.65 246.2L645.65 246.2Z" fill="#000"/>
<text class="a" x="650.85" y="242.9" font-size="7.2" text-anchor="middle" fill="#ff0d0d">OH</text>
<path d="M606.55 306.5L604.55 317L608.55 317Z" fill="#000"/>
<text class="a" x="609.35" y="324.5" font-size="7.2" text-anchor="middle" fill="#ff0d0d">OH</text>
<path d="M51.25 143.35L40.3 149.5M40.3 149.5L40.3 161.8M40.3 161.8L51.25 167.95M51.25 167.95L62.2 161.8M62.2 161.8L62.2 149.5M62.2 149.5L51.25 143.35M62.2 161.8L73.15 167.95M73.15 167.95L84.1 161.8M84.1 161.8L84.1 149.5M84.1 149.5L73.15 143.35M73.15 143.35L62.2 149.5M73.15 143.35L73.15 131.05M73.15 131.05L84.1 124.9M84.1 124.9L95.05 131.05M95.05 131.05L95.05 143.35M95.05 143.35L84.1 149.5M95.05 143.35L108.05 146.55M108.05 146.55L114.05 135.85M114.05 135.85L107.05 124.85M107.05 124.85L95.05 131.05" stroke="#000" stroke-width="1.2" stroke-linecap="round" stroke-linejoin="round" fill="none"/>
<path d="M51.58 165.47L59.91 160.79" stroke="#000" stroke-width="1.2" stroke-linecap="round" fill="none"/>
<path d="M40.82 162.65L32.75 167.58" stroke="#000" stroke-width="1.2" stroke-linecap="round" fill="none"/>
<path d="M39.78 160.95L31.71 165.88" stroke="#000" stroke-width="1.2" stroke-linecap="round" fill="none"/>
<text class="a" x="29.2" y="170.8" font-size="6.5" text-anchor="middle" fill="#ff0d0d">O</text>
<path d="M62.2 149.5L63.95 140.9L60.45 140.9Z" fill="#000"/>
<text class="a" x="60" y="138.9" font-size="6.3">CH<tspan font-size="5.04" dy="1.39">3</tspan><tspan dy="-1.39">​</tspan></text>
<path d="M95.05 131.05L96.8 122.05L93.3 122.05Z" fill="#000"/>
<text class="a" x="92.85" y="120.25" font-size="6.3">CH<tspan font-size="5.04" dy="1.39">3</tspan><tspan dy="-1.39">​</tspan></text>
<path d="M74.46 143.38L73.81 142.22M76.24 142.71L75.31 141.04M78.02 142.05L76.8 139.87M79.81 141.38L78.3 138.69M81.59 140.72L79.8 137.52" stroke="#000" stroke-width="1" fill="none"/>
<text class="a" x="84.15" y="139.35" font-size="5.8" text-anchor="middle">H</text>
<path d="M84.1 149.5L89.92 155.55L91.88 152.65Z" fill="#000"/>
<text class="a" x="93.9" y="157.5" font-size="5.8" text-anchor="middle">H</text>
<path d="M94.97 144.6L96.14 143.97M95.55 146.3L97.24 145.39M96.14 148L98.33 146.81M96.72 149.7L99.43 148.24M97.3 151.4L100.53 149.66" stroke="#000" stroke-width="1" fill="none"/>
<text class="a" x="101.25" y="155.95" font-size="5.8" text-anchor="middle">H</text>
<path d="M107.05 124.85L109.93 117.05L106.47 116.55Z" fill="#000"/>
<text class="a" x="109.4" y="113.7" font-size="6.5" text-anchor="middle" fill="#ff0d0d">O</text>
<path d="M120.75 107.85L121.09 109.13M118.87 108.04L119.37 109.89M117 108.24L117.64 110.65M115.12 108.44L115.92 111.42M113.25 108.64L114.19 112.18" stroke="#000" stroke-width="1" fill="none"/>
<path d="M122 108.2L126.68 99.83" stroke="#000" stroke-width="1.2" stroke-linecap="round" fill="none"/>
<path d="M131.3 97.3L140.5 97.3" stroke="#000" stroke-width="1.2" stroke-linecap="round" fill="none"/>
<path d="M140.5 97.3L146.4 108.2" stroke="#000" stroke-width="1.2" stroke-linecap="round" fill="none"/>
<path d="M146.4 108.2L141 119.1" stroke="#000" stroke-width="1.2" stroke-linecap="round" fill="none"/>
<path d="M141 119.1L128.4 119.1" stroke="#000" stroke-width="1.2" stroke-linecap="round" fill="none"/>
<path d="M128.4 119.1L122 108.2" stroke="#000" stroke-width="1.2" stroke-linecap="round" fill="none"/>
<text class="a" x="128.1" y="99.7" font-size="6.5" text-anchor="middle" fill="#ff0d0d">O</text>
<path d="M140.5 97.3L150.2 91.76L148 89.04Z" fill="#000"/>
<text class="a" x="153.9" y="88" font-size="5.9" text-anchor="middle" font-style="italic">COOH</text>
<path d="M146.4 108.2L157.93 112.51L158.67 109.09Z" fill="#000"/>
<text class="a" x="163.7" y="113.7" font-size="6.3" text-anchor="middle" fill="#ff0d0d">OH</text>
<path d="M141.11 120.37L142.18 119.58M141.96 122L143.5 120.87M142.8 123.64L144.81 122.15M143.65 125.27L146.13 123.44M144.49 126.91L147.44 124.73" stroke="#000" stroke-width="1" fill="none"/>
<text class="a" x="151.4" y="132.8" font-size="6.3" text-anchor="middle" fill="#ff0d0d">OH</text>
<path d="M128.4 119.1L121.82 124.73L124.58 126.87Z" fill="#000"/>
<text class="a" x="117.7" y="132.8" font-size="6.3" text-anchor="middle" fill="#ff0d0d">HO</text>
</svg>
</body></html>
